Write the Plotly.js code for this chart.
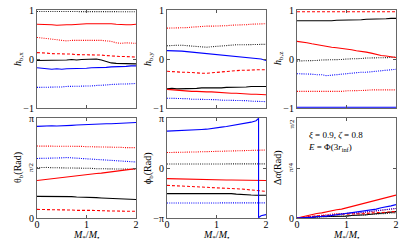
<!DOCTYPE html>
<html><head><meta charset="utf-8">
<script src="https://cdn.plot.ly/plotly-3.0.1.min.js"></script>
<style>html,body{margin:0;padding:0;background:#fff;}#chart{width:407px;height:244px;}</style>
</head><body><div id="chart"></div>
<script>
// Mass grid M*/M•
const M = [0,0.1,0.2,0.3,0.4,0.5,0.6,0.7,0.8,0.9,1.0,1.1,1.2,1.3,1.4,1.5,1.6,1.7,1.8,1.9,2.0];

// h_b,x
const hx_blackSolid = [-0.03,-0.03,-0.02,-0.03,-0.02,-0.02,-0.02,-0.01,-0.02,-0.01,-0.01,-0.01,0.0,-0.02,-0.05,-0.08,-0.09,-0.09,-0.10,-0.10,-0.10];
const hx_blackDot   = [0.97,0.97,0.965,0.97,0.97,0.965,0.97,0.97,0.97,0.965,0.97,0.97,0.97,0.965,0.97,0.97,0.965,0.97,0.97,0.97,0.965];
const hx_redSolid   = [0.71,0.71,0.70,0.70,0.69,0.70,0.70,0.70,0.71,0.71,0.72,0.72,0.72,0.73,0.73,0.72,0.71,0.70,0.70,0.70,0.71];
const hx_redDot     = [0.44,0.43,0.42,0.40,0.39,0.38,0.37,0.38,0.38,0.38,0.39,0.38,0.38,0.38,0.37,0.36,0.33,0.32,0.33,0.33,0.32];
const hx_redDash    = [0.13,0.13,0.12,0.11,0.11,0.10,0.10,0.10,0.09,0.09,0.09,0.08,0.08,0.08,0.07,0.06,0.06,0.05,0.05,0.04,0.04];
const hx_blueSolid  = [-0.18,-0.19,-0.20,-0.21,-0.20,-0.21,-0.20,-0.20,-0.19,-0.19,-0.19,-0.18,-0.18,-0.17,-0.17,-0.16,-0.16,-0.15,-0.15,-0.14,-0.14];
const hx_blueDot    = [-0.58,-0.58,-0.58,-0.57,-0.57,-0.57,-0.56,-0.56,-0.56,-0.55,-0.55,-0.55,-0.54,-0.54,-0.53,-0.52,-0.51,-0.51,-0.51,-0.50,-0.50];

// h_b,y
const hy_blackSolid = [-0.61,-0.60,-0.61,-0.61,-0.60,-0.60,-0.60,-0.59,-0.59,-0.60,-0.59,-0.59,-0.58,-0.58,-0.57,-0.57,-0.57,-0.56,-0.56,-0.56,-0.56];
const hy_blackDot   = [0.27,0.28,0.28,0.28,0.27,0.26,0.25,0.24,0.24,0.25,0.26,0.26,0.27,0.28,0.29,0.29,0.29,0.30,0.30,0.30,0.30];
const hy_redSolid   = [-0.62,-0.63,-0.64,-0.65,-0.65,-0.66,-0.66,-0.67,-0.67,-0.67,-0.68,-0.69,-0.69,-0.70,-0.70,-0.71,-0.71,-0.72,-0.72,-0.73,-0.73];
const hy_redDot     = [0.63,0.63,0.63,0.64,0.64,0.65,0.66,0.66,0.67,0.67,0.67,0.68,0.68,0.69,0.69,0.70,0.70,0.71,0.71,0.71,0.72];
const hy_redDash    = [-0.25,-0.26,-0.26,-0.27,-0.27,-0.28,-0.28,-0.29,-0.29,-0.28,-0.27,-0.26,-0.25,-0.24,-0.24,-0.23,-0.23,-0.22,-0.22,-0.22,-0.22];
const hy_blueSolid  = [0.17,0.17,0.16,0.16,0.15,0.14,0.13,0.13,0.12,0.11,0.10,0.09,0.08,0.07,0.06,0.05,0.04,0.03,0.02,0.0,-0.03];
const hy_blueDot    = [-0.80,-0.80,-0.81,-0.81,-0.81,-0.82,-0.82,-0.82,-0.83,-0.83,-0.83,-0.84,-0.84,-0.84,-0.85,-0.85,-0.85,-0.86,-0.86,-0.86,-0.87];

// h_b,z
const hz_blackSolid = [0.78,0.78,0.78,0.77,0.77,0.78,0.78,0.78,0.79,0.79,0.79,0.79,0.80,0.80,0.81,0.81,0.82,0.82,0.82,0.83,0.83];
const hz_blackDot   = [-0.04,-0.04,-0.04,-0.03,-0.03,-0.02,-0.02,-0.02,-0.01,-0.01,0.0,0.0,0.01,0.01,0.02,0.02,0.02,0.03,0.03,0.03,0.04];
const hz_redSolid   = [0.36,0.35,0.33,0.31,0.29,0.27,0.26,0.24,0.23,0.22,0.21,0.19,0.17,0.16,0.14,0.12,0.09,0.07,0.06,0.05,0.03];
const hz_redDot     = [-0.66,-0.66,-0.67,-0.67,-0.67,-0.67,-0.66,-0.66,-0.66,-0.66,-0.65,-0.65,-0.65,-0.65,-0.64,-0.63,-0.63,-0.63,-0.63,-0.63,-0.63];
const hz_redDash    = [0.965,0.965,0.96,0.965,0.965,0.965,0.96,0.965,0.965,0.965,0.97,0.965,0.965,0.965,0.965,0.97,0.965,0.965,0.965,0.965,0.965];
const hz_blueSolid  = [-0.985,-0.985,-0.98,-0.985,-0.985,-0.985,-0.985,-0.98,-0.985,-0.985,-0.985,-0.985,-0.985,-0.985,-0.985,-0.985,-0.985,-0.985,-0.985,-0.985,-0.985];
const hz_blueDot    = [-0.30,-0.30,-0.31,-0.31,-0.32,-0.32,-0.34,-0.33,-0.32,-0.30,-0.30,-0.29,-0.28,-0.27,-0.27,-0.26,-0.25,-0.24,-0.23,-0.22,-0.21];

// theta_b (Rad)
const th_blackSolid = [0.68,0.68,0.68,0.69,0.68,0.68,0.67,0.67,0.66,0.66,0.65,0.65,0.64,0.63,0.62,0.61,0.60,0.60,0.59,0.59,0.58];
const th_blackDot   = [1.58,1.59,1.59,1.58,1.58,1.58,1.57,1.57,1.57,1.56,1.56,1.56,1.55,1.55,1.55,1.54,1.54,1.54,1.53,1.53,1.53];
const th_redSolid   = [1.18,1.20,1.22,1.24,1.26,1.28,1.30,1.32,1.33,1.35,1.36,1.38,1.40,1.41,1.43,1.45,1.47,1.49,1.51,1.53,1.55];
const th_redDot     = [2.26,2.26,2.27,2.26,2.26,2.26,2.26,2.25,2.25,2.25,2.24,2.24,2.24,2.24,2.23,2.22,2.22,2.22,2.21,2.21,2.21];
const th_redDash    = [0.27,0.27,0.26,0.26,0.26,0.25,0.25,0.25,0.24,0.25,0.24,0.24,0.23,0.23,0.22,0.22,0.22,0.21,0.21,0.21,0.21];
const th_blueSolid  = [2.88,2.89,2.89,2.90,2.89,2.89,2.90,2.91,2.92,2.93,2.94,2.94,2.95,2.95,2.96,2.96,2.97,2.97,2.98,2.99,3.00];
const th_blueDot    = [1.87,1.87,1.88,1.88,1.89,1.89,1.90,1.89,1.88,1.87,1.86,1.85,1.84,1.83,1.82,1.81,1.80,1.79,1.78,1.77,1.76];

// phi_b (Rad)
const ph_blackSolid = [-1.61,-1.61,-1.61,-1.61,-1.60,-1.60,-1.60,-1.60,-1.60,-1.60,-1.60,-1.60,-1.59,-1.61,-1.64,-1.67,-1.69,-1.70,-1.71,-1.71,-1.71];
const ph_blackDot   = [0.25,0.25,0.26,0.26,0.25,0.25,0.24,0.24,0.24,0.24,0.25,0.25,0.25,0.26,0.26,0.26,0.26,0.26,0.26,0.26,0.26];
const ph_redSolid   = [-0.67,-0.68,-0.69,-0.70,-0.71,-0.71,-0.72,-0.72,-0.73,-0.73,-0.74,-0.74,-0.75,-0.75,-0.76,-0.77,-0.77,-0.78,-0.78,-0.79,-0.79];
const ph_redDot     = [0.97,0.97,0.98,0.99,0.99,1.00,1.01,1.02,1.03,1.04,1.05,1.05,1.06,1.07,1.08,1.09,1.10,1.10,1.11,1.12,1.13];
const ph_redDash    = [-1.09,-1.10,-1.12,-1.14,-1.15,-1.17,-1.19,-1.20,-1.21,-1.23,-1.24,-1.25,-1.26,-1.28,-1.30,-1.32,-1.35,-1.38,-1.41,-1.44,-1.47];
const ph_blueSolidM = [0,0.1,0.2,0.3,0.4,0.5,0.6,0.7,0.8,0.9,1.0,1.1,1.2,1.3,1.4,1.5,1.6,1.7,1.8,1.85,1.85,1.9,2.0];
const ph_blueSolid  = [2.32,2.33,2.33,2.34,2.36,2.37,2.40,2.42,2.44,2.47,2.52,2.57,2.61,2.66,2.70,2.75,2.80,2.88,2.97,3.12,-3.12,-3.00,-2.93];
const ph_blueDot    = [-2.20,-2.20,-2.20,-2.21,-2.21,-2.21,-2.20,-2.20,-2.20,-2.20,-2.20,-2.20,-2.20,-2.20,-2.20,-2.20,-2.19,-2.19,-2.19,-2.19,-2.19];

// Delta alpha (Rad)
const da_blackSolid = [0,0.0,0.01,0.01,0.02,0.02,0.02,0.03,0.03,0.03,0.03,0.04,0.04,0.04,0.05,0.06,0.07,0.08,0.09,0.09,0.10];
const da_blackDot   = [0,0.0,0.01,0.01,0.01,0.02,0.02,0.02,0.03,0.03,0.03,0.04,0.04,0.05,0.05,0.06,0.06,0.07,0.07,0.08,0.08];
const da_redSolid   = [0,0.02,0.04,0.05,0.07,0.08,0.10,0.11,0.13,0.14,0.16,0.18,0.19,0.21,0.23,0.25,0.27,0.29,0.31,0.33,0.36];
const da_redDot     = [0,0.01,0.02,0.03,0.04,0.05,0.06,0.06,0.07,0.07,0.07,0.08,0.08,0.08,0.09,0.10,0.12,0.13,0.14,0.14,0.15];
const da_redDash    = [0,0.01,0.02,0.03,0.03,0.04,0.04,0.05,0.05,0.06,0.06,0.06,0.07,0.07,0.07,0.08,0.08,0.09,0.09,0.10,0.10];
const da_blueSolid  = [0,0.0,0.01,0.01,0.02,0.02,0.03,0.04,0.05,0.06,0.07,0.08,0.09,0.10,0.11,0.13,0.14,0.16,0.17,0.19,0.21];
const da_blueDot    = [0,0.0,0.01,0.02,0.02,0.03,0.04,0.05,0.05,0.06,0.07,0.08,0.08,0.09,0.10,0.11,0.11,0.12,0.13,0.14,0.15];

// Axis labels
const yTitles = ['<i>h</i><sub>b,x</sub>','<i>h</i><sub>b,y</sub>','<i>h</i><sub>b,z</sub>','θ<sub>b</sub>(Rad)','ϕ<sub>b</sub>(Rad)','Δ<i>α</i>(Rad)'];
const xTitle = '<i>M</i><sub>*</sub>/<i>M</i><sub>•</sub>';
const noteText = '<i>ξ</i> = 0.9, <i>ζ</i> = 0.8<br><i>E</i> = Φ(3<i>r</i><sub>inf</sub>)';

const PI = Math.PI;
const styles = {
  blackSolid:{color:'#000000',dash:'solid'}, blackDot:{color:'#222222',dash:'1px,1.2px'},
  redSolid:{color:'#ff0000',dash:'solid'}, redDot:{color:'#ff0000',dash:'1px,1.2px'}, redDash:{color:'#ff0000',dash:'3px,2px'},
  blueSolid:{color:'#0000ff',dash:'solid'}, blueDot:{color:'#0000ff',dash:'1px,1.2px'}
};
const panels = [
  {ax:'', d:{blackSolid:hx_blackSolid,blackDot:hx_blackDot,redSolid:hx_redSolid,redDot:hx_redDot,redDash:hx_redDash,blueSolid:hx_blueSolid,blueDot:hx_blueDot}},
  {ax:'2', d:{blackSolid:hy_blackSolid,blackDot:hy_blackDot,redSolid:hy_redSolid,redDot:hy_redDot,redDash:hy_redDash,blueSolid:hy_blueSolid,blueDot:hy_blueDot}},
  {ax:'3', d:{blackSolid:hz_blackSolid,blackDot:hz_blackDot,redSolid:hz_redSolid,redDot:hz_redDot,redDash:hz_redDash,blueSolid:hz_blueSolid,blueDot:hz_blueDot}},
  {ax:'4', d:{blackSolid:th_blackSolid,blackDot:th_blackDot,redSolid:th_redSolid,redDot:th_redDot,redDash:th_redDash,blueSolid:th_blueSolid,blueDot:th_blueDot}},
  {ax:'5', d:{blackSolid:ph_blackSolid,blackDot:ph_blackDot,redSolid:ph_redSolid,redDot:ph_redDot,redDash:ph_redDash,blueSolid:ph_blueSolid,blueDot:ph_blueDot}, xs:{blueSolid:ph_blueSolidM}},
  {ax:'6', d:{blackSolid:da_blackSolid,blackDot:da_blackDot,redSolid:da_redSolid,redDot:da_redDot,redDash:da_redDash,blueSolid:da_blueSolid,blueDot:da_blueDot}}
];
const traces = [];
panels.forEach(p => {
  Object.keys(p.d).forEach(k => {
    traces.push({x:(p.xs && p.xs[k]) ? p.xs[k] : M, y:p.d[k], type:'scatter', mode:'lines',
      xaxis:'x'+p.ax, yaxis:'y'+p.ax, showlegend:false, hoverinfo:'skip',
      line:{color:styles[k].color, dash:styles[k].dash, width:1.1}});
  });
});

const W = 407, H = 244;
const colPx = [[37,136],[167,266],[297,396]];
const rowPx = [[10,108],[118,218]];
const xd = c => [colPx[c][0]/W, colPx[c][1]/W];
const yd = r => [(H-rowPx[r][1])/H, (H-rowPx[r][0])/H];
const font = {family:'"Liberation Serif","DejaVu Serif",serif', size:10, color:'#000'};
function xax(c, r){
  return {domain:xd(c), range:[0,2], showgrid:false, zeroline:false,
    tickvals:[0,1,2], ticks:'inside', ticklen:3, tickcolor:'#555', mirror:'ticks', showline:true,
    linecolor:'#666', linewidth:1, showticklabels:r===1, tickfont:font, ticklabelstandoff:-3};
}
function yax(c, r, range, tv, tt){
  return {domain:yd(r), range:range, showgrid:false, zeroline:false, tickvals:tv, ticktext:tt,
    ticks:'inside', ticklen:3, tickcolor:'#555', mirror:'ticks', showline:true, linecolor:'#666', linewidth:1,
    tickfont:font};
}
const layout = {
  width:W, height:H, margin:{l:0,r:0,t:0,b:0}, paper_bgcolor:'#fff', plot_bgcolor:'#fff', showlegend:false,
  font:font
};
const yspecs = [
  [[-1,1],[-1,0,1],['−1','0','1']],
  [[-1,1],[-1,0,1],['−1','0','1']],
  [[-1,1],[-1,0,1],['−1','0','1']],
  [[0,PI],[0,PI/2,PI],['0','','π']],
  [[-PI,PI],[-PI,0,PI],['−π','0','π']],
  [[0,PI/2],[0,PI/4,PI/2],['0','','']]
];
const small = {family:font.family, size:7, color:'#000'};
const ann = [];
for (let i=0;i<6;i++){
  const c = i%3, r = Math.floor(i/3);
  const s = i===0 ? '' : String(i+1);
  const xa = xax(c, r); xa.anchor = 'y'+s;
  layout['xaxis'+s] = xa;
  const ya = yax(c, r, yspecs[i][0], yspecs[i][1], yspecs[i][2]); ya.anchor = 'x'+s;
  layout['yaxis'+s] = ya;
  const yc = (rowPx[r][0]+rowPx[r][1])/2;
  ann.push({xref:'paper', yref:'paper', x:(colPx[c][0]-19)/W, y:(H-yc)/H, text:yTitles[i], textangle:-90,
    showarrow:false, font:font, xanchor:'center', yanchor:'middle'});
  if (r===1) ann.push({xref:'paper', yref:'paper', x:((colPx[c][0]+colPx[c][1])/2)/W, y:(H-235)/H, text:xTitle,
    showarrow:false, font:font, xanchor:'center', yanchor:'middle'});
}
ann.push(
  {xref:'paper', yref:'y4', x:(colPx[0][0]-6)/W, y:PI/2, text:'π/2', textangle:-90, showarrow:false, font:small, xanchor:'center'},
  {xref:'paper', yref:'y6', x:(colPx[2][0]-6)/W, y:PI/4, text:'π/4', textangle:-90, showarrow:false, font:small, xanchor:'center'},
  {xref:'paper', yref:'y6', x:(colPx[2][0]-6)/W, y:PI/2, text:'π/2', textangle:-90, showarrow:false, font:small, xanchor:'center', yanchor:'top'},
  {xref:'paper', yref:'paper', x:306/W, y:(H-128)/H, xanchor:'left', yanchor:'top', align:'left', showarrow:false,
   text:noteText, font:{family:font.family, size:9, color:'#000'}}
);
layout.annotations = ann;
Plotly.newPlot('chart', traces, layout, {staticPlot:true, displayModeBar:false});
</script>
</body></html>
